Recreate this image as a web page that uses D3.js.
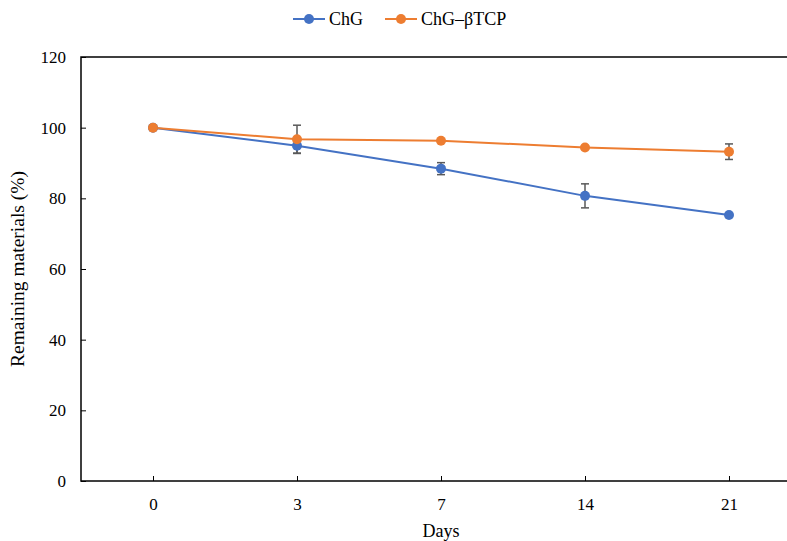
<!DOCTYPE html>
<html>
<head>
<meta charset="utf-8">
<style>
  body { margin: 0; background: #fff; }
  svg { display: block; }
</style>
</head>
<body>
<svg width="787" height="541"></svg>
<script src="https://d3js.org/d3.v7.min.js"></script>
<script>

// data
const days = ["0", "3", "7", "14", "21"];
const chgValues = [100, 94.9, 88.4, 80.7, 75.3];
const chgErrors = [0, 2.1, 1.7, 3.4, 0];
const tcpValues = [100, 96.7, 96.3, 94.4, 93.2];
const tcpErrors = [0, 4.0, 0, 0, 2.2];
const yTicks = [0, 20, 40, 60, 80, 100, 120];

const series = [
  { name: "ChG", color: "#4472C4", values: chgValues, errors: chgErrors },
  { name: "ChG\u2013\u03B2TCP", color: "#ED7D31", values: tcpValues, errors: tcpErrors }
];

const svg = d3.select("svg"),
    width = +svg.attr("width"),
    height = +svg.attr("height");

const font = "'Liberation Serif', 'Times New Roman', serif";
const margin = { left: 81, right: -14, top: 57, bottom: 60 };

const x = d3.scalePoint()
    .domain(days)
    .range([margin.left, width - margin.right])
    .padding(0.5);

const y = d3.scaleLinear()
    .domain([0, 120])
    .range([height - margin.bottom, margin.top]);

// plot box
svg.append("rect")
    .attr("x", margin.left)
    .attr("y", y(120))
    .attr("width", width - margin.right - margin.left)
    .attr("height", y(0) - y(120))
    .attr("fill", "none")
    .attr("stroke", "#000")
    .attr("stroke-width", 1.5);

// y axis
const yAxis = svg.append("g")
    .attr("transform", "translate(" + margin.left + ",0)")
    .call(d3.axisLeft(y).tickValues(yTicks).tickSizeInner(-5).tickSizeOuter(0).tickPadding(15));
yAxis.select(".domain").remove();
yAxis.selectAll("line").attr("stroke", "#000");
yAxis.selectAll("text")
    .style("font-family", font)
    .style("font-size", "17px")
    .attr("fill", "#000");

// x axis
const xAxis = svg.append("g")
    .attr("transform", "translate(0," + y(0) + ")")
    .call(d3.axisBottom(x).tickSizeInner(-5).tickSizeOuter(0).tickPadding(17));
xAxis.select(".domain").remove();
xAxis.selectAll("line").attr("stroke", "#000");
xAxis.selectAll("text")
    .style("font-family", font)
    .style("font-size", "17px")
    .attr("fill", "#000");

// axis titles
svg.append("text")
    .attr("x", x("7"))
    .attr("y", 537)
    .attr("text-anchor", "middle")
    .style("font-family", font)
    .style("font-size", "18px")
    .text("Days");

svg.append("text")
    .attr("transform", "translate(24," + y(60) + ") rotate(-90)")
    .attr("text-anchor", "middle")
    .style("font-family", font)
    .style("font-size", "19.5px")
    .text("Remaining materials (%)");

// lines, error bars, markers
const line = d3.line()
    .x(function(d, i) { return x(days[i]); })
    .y(function(d) { return y(d); });

series.forEach(function(s) {
  svg.append("path")
      .datum(s.values)
      .attr("fill", "none")
      .attr("stroke", s.color)
      .attr("stroke-width", 2)
      .attr("d", line);
});

series.forEach(function(s) {
  const g = svg.append("g");
  s.values.forEach(function(v, i) {
    const e = s.errors[i];
    if (!e) return;
    const cx = x(days[i]);
    g.append("line")
        .attr("x1", cx).attr("x2", cx)
        .attr("y1", y(v + e)).attr("y2", y(v - e))
        .attr("stroke", "#595959").attr("stroke-width", 1.5);
    [v + e, v - e].forEach(function(t) {
      g.append("line")
          .attr("x1", cx - 4).attr("x2", cx + 4)
          .attr("y1", y(t)).attr("y2", y(t))
          .attr("stroke", "#595959").attr("stroke-width", 1.5);
    });
  });
});

series.forEach(function(s) {
  svg.append("g")
      .selectAll("circle")
      .data(s.values)
      .enter()
      .append("circle")
      .attr("cx", function(d, i) { return x(days[i]); })
      .attr("cy", function(d) { return y(d); })
      .attr("r", 5)
      .attr("fill", s.color);
});

// legend
const legendX = [293, 385];
series.forEach(function(s, i) {
  const lg = svg.append("g").attr("transform", "translate(" + legendX[i] + ",19)");
  lg.append("line")
      .attr("x1", 0).attr("x2", 32)
      .attr("stroke", s.color).attr("stroke-width", 2);
  lg.append("circle")
      .attr("cx", 16).attr("r", 5)
      .attr("fill", s.color);
  lg.append("text")
      .attr("x", 36)
      .attr("y", 6)
      .style("font-family", font)
      .style("font-size", "18px")
      .text(s.name);
});

</script>
</body>
</html>
